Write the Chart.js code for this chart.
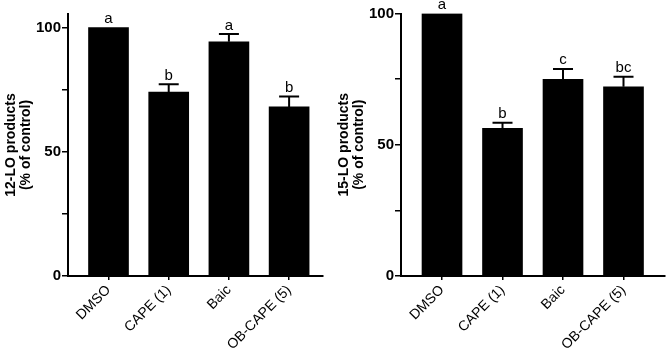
<!DOCTYPE html>
<html>
<head>
<meta charset="utf-8">
<script src="https://cdn.jsdelivr.net/npm/chart.js@4.4.1/dist/chart.umd.min.js"></script>
<style>
  body { margin: 0; background: #fff; }
  .wrap { display: flex; width: 666px; height: 353px; }
  canvas { display: block; }
</style>
</head>
<body>
<div class="wrap">
  <canvas id="chart12" width="333" height="353"></canvas>
  <canvas id="chart15" width="333" height="353"></canvas>
</div>
<script>
const categories = ['DMSO', 'CAPE (1)', 'Baic', 'OB-CAPE (5)'];

const lo12Values = [100, 74.1, 94.3, 68.1];
const lo12Errors = [0, 3.1, 3.1, 4.2];
const lo12Letters = ['a', 'b', 'a', 'b'];

const lo15Values = [100, 56.3, 74.9, 72.1];
const lo15Errors = [0, 2.1, 4.0, 3.8];
const lo15Letters = ['a', 'b', 'c', 'bc'];

const yLabelTicks = [0, 50, 100];

Chart.defaults.font.family = "'Liberation Sans', Arial, sans-serif";
Chart.defaults.color = '#000';

// error bars (upper half only) and the letters above them
const errLetters = {
    id: 'errLetters',
    afterDatasetsDraw(chart, args, opts) {
        const c = chart.ctx;
        const xs = chart.scales.x;
        const ys = chart.scales.y;
        const vals = chart.data.datasets[0].data;
        c.save();
        c.strokeStyle = '#000';
        c.lineWidth = 2;
        vals.forEach((p, i) => {
            const x = xs.getPixelForValue(p.x);
            const yTop = ys.getPixelForValue(p.y);
            const err = opts.errors[i];
            let yEnd = yTop;
            if (err > 0) {
                yEnd = ys.getPixelForValue(p.y + err);
                c.beginPath();
                c.moveTo(x, yTop);
                c.lineTo(x, yEnd);
                c.moveTo(x - 10, yEnd);
                c.lineTo(x + 10, yEnd);
                c.stroke();
            }
            c.fillStyle = '#000';
            c.font = "15px 'Liberation Sans', Arial, sans-serif";
            c.textAlign = 'center';
            c.textBaseline = 'alphabetic';
            c.fillText(opts.letters[i], x, yEnd - 4.5);
        });
        c.restore();
    }
};

function makeChart(id, title, values, errors, letters, yMax, xMin, xMax, padRight, padTop) {
    return new Chart(document.getElementById(id), {
        type: 'bar',
        data: {
            datasets: [{
                data: values.map((v, i) => ({ x: i, y: v })),
                backgroundColor: '#000',
                borderWidth: 0,
                barThickness: 40
            }]
        },
        options: {
            responsive: false,
            animation: false,
            layout: { padding: { top: padTop, right: padRight, left: 0, bottom: 0 } },
            plugins: {
                legend: { display: false },
                tooltip: { enabled: false },
                errLetters: { errors: errors, letters: letters }
            },
            scales: {
                x: {
                    type: 'linear',
                    min: xMin,
                    max: xMax,
                    offset: false,
                    grid: { display: true, offset: false, drawOnChartArea: false, tickLength: 4, color: '#000', lineWidth: 1.5 },
                    border: { color: '#000', width: 2 },
                    ticks: {
                        stepSize: 1,
                        includeBounds: false,
                        autoSkip: false,
                        minRotation: 45,
                        maxRotation: 45,
                        padding: 2,
                        font: { size: 14 },
                        callback: v => Number.isInteger(v) ? categories[v] : ''
                    },
                    afterFit: s => { s.height = 77; }
                },
                y: {
                    min: 0,
                    max: yMax,
                    grid: { display: true, drawOnChartArea: false, tickLength: 6, color: '#000', lineWidth: 1.5 },
                    border: { color: '#000', width: 2 },
                    ticks: {
                        stepSize: 25,
                        includeBounds: false,
                        padding: 1,
                        font: { size: 15, weight: 'bold' },
                        callback: v => yLabelTicks.includes(v) ? v : ''
                    },
                    title: {
                        display: true,
                        text: [title, '(% of control)'],
                        font: { size: 14, weight: 'bold', lineHeight: 1.1 },
                        padding: { top: 3, bottom: 0 }
                    },
                    afterFit: s => { s.width = 68; }
                }
            }
        },
        plugins: [errLetters]
    });
}

makeChart('chart12', '12-LO products', lo12Values, lo12Errors, lo12Letters, 105.5, -0.673, 3.563, 10, 14);
makeChart('chart15', '15-LO products', lo15Values, lo15Errors, lo15Letters, 100, -0.678, 3.686, 1, 13.5);
</script>
</body>
</html>
